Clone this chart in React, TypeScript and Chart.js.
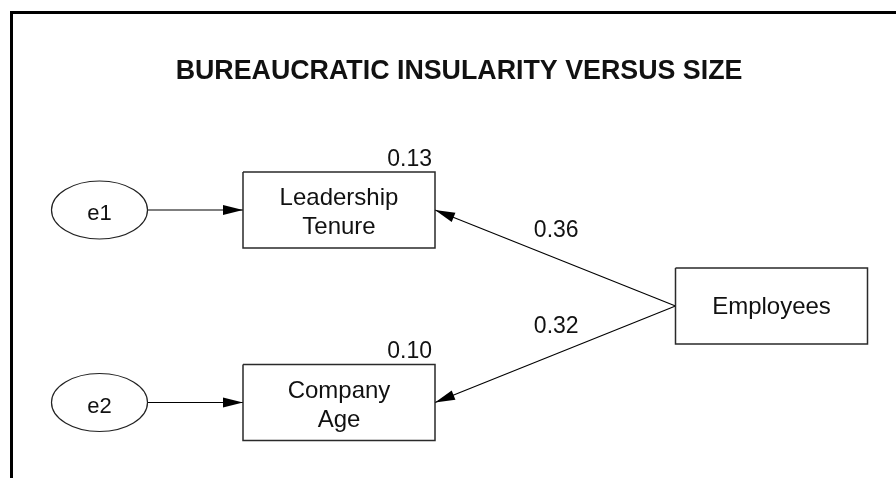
import React, { useEffect, useRef } from "react";
import { Chart, registerables } from "chart.js";

Chart.register(...registerables);

// ---- data ----
const titleText = "BUREAUCRATIC INSULARITY VERSUS SIZE";
const observedNames = [["Leadership", "Tenure"], ["Company", "Age"], ["Employees"]];
const rSquaredLabels = ["0.13", "0.10", ""];
const errorNames = ["e1", "e2"];
const errorTargets = [0, 1];
const pathFrom = [2, 2];
const pathTo = [0, 1];
const pathCoefficients = ["0.36", "0.32"];

// ---- layout (diagram units = px) ----
const boxCX = [339, 339, 771.5];
const boxCY = [210, 402.5, 306];
const BOX_W = 192;
const BOX_H = 76;
const errCX = [99.5, 99.5];
const errCY = [210, 402.5];
const ERR_RX = 48;
const ERR_RY = 29;
const FONT = '"Liberation Sans", Arial, Helvetica, sans-serif';

function boxPolygon(i: number) {
  const l = boxCX[i] - BOX_W / 2, r = boxCX[i] + BOX_W / 2;
  const t = boxCY[i] - BOX_H / 2, b = boxCY[i] + BOX_H / 2;
  return [{ x: l, y: t }, { x: r, y: t }, { x: r, y: b }, { x: l, y: b }, { x: l, y: t }];
}

type Seg = { x1: number; y1: number; x2: number; y2: number };
const arrowSegs: Seg[] = [];
errorNames.forEach((_, i) => {
  const t = errorTargets[i];
  arrowSegs.push({ x1: errCX[i] + ERR_RX, y1: errCY[i], x2: boxCX[t] - BOX_W / 2, y2: boxCY[t] });
});
pathFrom.forEach((f, i) => {
  const t = pathTo[i];
  arrowSegs.push({ x1: boxCX[f] - BOX_W / 2, y1: boxCY[f], x2: boxCX[t] + BOX_W / 2, y2: boxCY[t] });
});

const diagramPlugin = {
  id: "diagram",
  afterDatasetsDraw(chart: any) {
    const ctx = chart.ctx as CanvasRenderingContext2D;
    const xs = chart.scales.x, ys = chart.scales.y;
    const px = (v: number) => xs.getPixelForValue(v);
    const py = (v: number) => ys.getPixelForValue(v);
    ctx.save();
    // frame
    ctx.strokeStyle = "#000";
    ctx.lineWidth = 3;
    ctx.beginPath();
    ctx.moveTo(px(11.5), py(478));
    ctx.lineTo(px(11.5), py(12.5));
    ctx.lineTo(px(896), py(12.5));
    ctx.stroke();
    // title
    ctx.fillStyle = "#111";
    ctx.font = `bold 26.8px ${FONT}`;
    ctx.textAlign = "center";
    ctx.textBaseline = "alphabetic";
    ctx.fillText(titleText, px(459), py(78.5));
    // ellipses
    ctx.lineWidth = 1.2;
    ctx.strokeStyle = "#222";
    errorNames.forEach((n, i) => {
      ctx.beginPath();
      ctx.ellipse(px(errCX[i]), py(errCY[i]), ERR_RX, ERR_RY, 0, 0, Math.PI * 2);
      ctx.stroke();
      ctx.font = `22px ${FONT}`;
      ctx.textAlign = "center";
      ctx.fillText(n, px(errCX[i]), py(errCY[i] + 10));
    });
    // arrowheads
    ctx.fillStyle = "#000";
    arrowSegs.forEach((s) => {
      const x1 = px(s.x1), y1 = py(s.y1), x2 = px(s.x2), y2 = py(s.y2);
      const a = Math.atan2(y2 - y1, x2 - x1);
      const L = 20, W = 5;
      ctx.beginPath();
      ctx.moveTo(x2, y2);
      ctx.lineTo(x2 - L * Math.cos(a) + W * Math.sin(a), y2 - L * Math.sin(a) - W * Math.cos(a));
      ctx.lineTo(x2 - L * Math.cos(a) - W * Math.sin(a), y2 - L * Math.sin(a) + W * Math.cos(a));
      ctx.closePath();
      ctx.fill();
    });
    // box texts
    ctx.fillStyle = "#111";
    observedNames.forEach((lines, i) => {
      ctx.font = `24px ${FONT}`;
      ctx.textAlign = "center";
      if (lines.length === 1) {
        ctx.fillText(lines[0], px(boxCX[i]), py(boxCY[i] + 8));
      } else {
        ctx.fillText(lines[0], px(boxCX[i]), py(boxCY[i] - 5));
        ctx.fillText(lines[1], px(boxCX[i]), py(boxCY[i] + 24));
      }
      if (rSquaredLabels[i]) {
        ctx.font = `23px ${FONT}`;
        ctx.textAlign = "right";
        ctx.fillText(rSquaredLabels[i], px(boxCX[i] + BOX_W / 2 - 3), py(boxCY[i] - BOX_H / 2 - 6.5));
      }
    });
    // path coefficients
    ctx.font = `23px ${FONT}`;
    ctx.textAlign = "center";
    pathFrom.forEach((f, i) => {
      const t = pathTo[i];
      const mx = (boxCX[f] - BOX_W / 2 + boxCX[t] + BOX_W / 2) / 2;
      const my = (boxCY[f] + boxCY[t]) / 2;
      ctx.fillText(pathCoefficients[i], px(mx + 1), py(my - 21));
    });
    ctx.restore();
  },
};

export default function App() {
  const ref = useRef<HTMLCanvasElement | null>(null);
  useEffect(() => {
    if (!ref.current) return;
    const datasets: any[] = [];
    observedNames.forEach((_, i) => {
      datasets.push({
        type: "line",
        data: boxPolygon(i),
        borderColor: "#2a2a2a",
        borderWidth: 1.5,
        pointRadius: 0,
        fill: false,
        tension: 0,
      });
    });
    arrowSegs.forEach((s) => {
      datasets.push({
        type: "line",
        data: [{ x: s.x1, y: s.y1 }, { x: s.x2, y: s.y2 }],
        borderColor: "#000",
        borderWidth: 1.1,
        pointRadius: 0,
        fill: false,
      });
    });
    const chart = new Chart(ref.current, {
      type: "scatter",
      data: { datasets },
      options: {
        animation: false,
        responsive: false,
        layout: { padding: 0 },
        plugins: { legend: { display: false }, tooltip: { enabled: false }, title: { display: false } },
        scales: {
          x: { type: "linear", min: 0, max: 896, display: false },
          y: { type: "linear", min: 0, max: 478, reverse: true, display: false },
        },
      },
      plugins: [diagramPlugin],
    });
    return () => chart.destroy();
  }, []);
  return (
    <div style={{ position: "fixed", left: 0, top: 0, width: 896, height: 478, background: "#fff" }}>
      <canvas ref={ref} width={896} height={478} style={{ display: "block" }} />
    </div>
  );
}
